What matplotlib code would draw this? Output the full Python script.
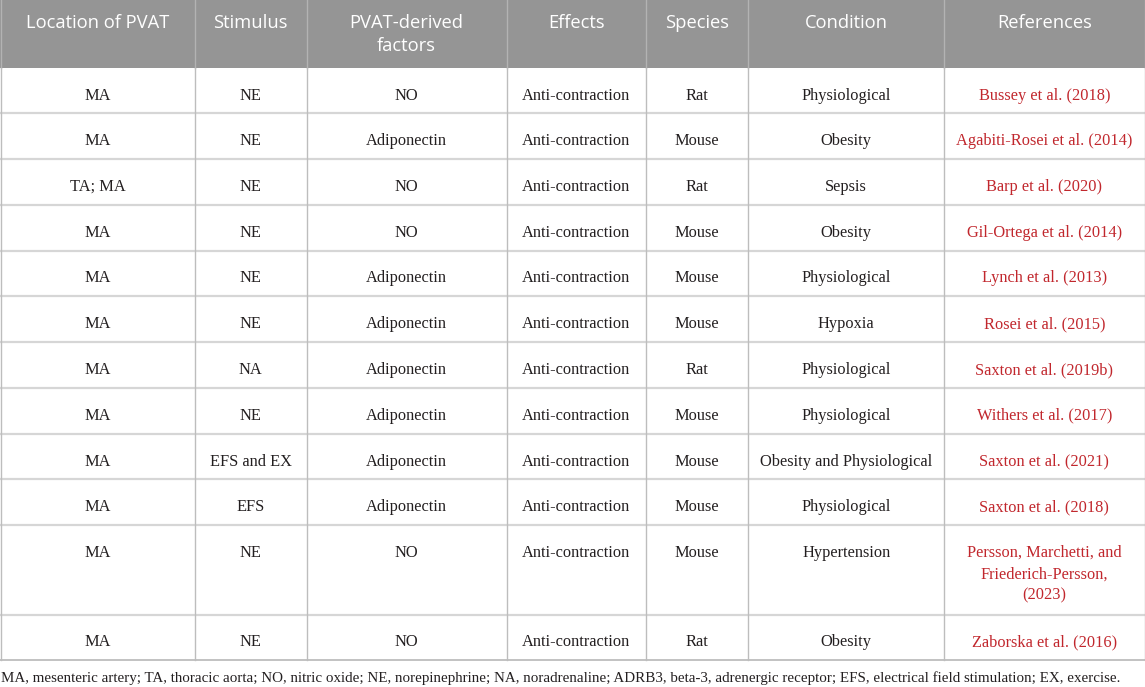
import matplotlib
matplotlib.use("Agg")
import matplotlib.pyplot as plt
from matplotlib.patches import Rectangle

headers = ["Location of PVAT", "Stimulus", "PVAT-derived\nfactors", "Effects",
           "Species", "Condition", "References"]
location = ["MA", "MA", "TA; MA", "MA", "MA", "MA", "MA", "MA", "MA", "MA", "MA", "MA"]
stimulus = ["NE", "NE", "NE", "NE", "NE", "NE", "NA", "NE", "EFS and EX", "EFS", "NE", "NE"]
factors = ["NO", "Adiponectin", "NO", "NO", "Adiponectin", "Adiponectin", "Adiponectin",
           "Adiponectin", "Adiponectin", "Adiponectin", "NO", "NO"]
effects = ["Anti-contraction"] * 12
species = ["Rat", "Mouse", "Rat", "Mouse", "Mouse", "Mouse", "Rat", "Mouse", "Mouse",
           "Mouse", "Mouse", "Rat"]
condition = ["Physiological", "Obesity", "Sepsis", "Obesity", "Physiological", "Hypoxia",
             "Physiological", "Physiological", "Obesity and Physiological", "Physiological",
             "Hypertension", "Obesity"]
references = ["Bussey et al. (2018)", "Agabiti-Rosei et al. (2014)", "Barp et al. (2020)",
              "Gil-Ortega et al. (2014)", "Lynch et al. (2013)", "Rosei et al. (2015)",
              "Saxton et al. (2019b)", "Withers et al. (2017)", "Saxton et al. (2021)",
              "Saxton et al. (2018)",
              "Persson, Marchetti, and\nFriederich-Persson,\n(2023)",
              "Zaborska et al. (2016)"]
footnote = ("MA, mesenteric artery; TA, thoracic aorta; NO, nitric oxide; NE, norepinephrine; "
            "NA, noradrenaline; ADRB3, beta-3, adrenergic receptor; EFS, electrical field "
            "stimulation; EX, exercise.")

columns = [location, stimulus, factors, effects, species, condition, references]

W, H = 1145, 687
fig = plt.figure(figsize=(W / 100, H / 100), dpi=100)
ax = fig.add_axes([0, 0, 1, 1])
ax.set_xlim(0, W)
ax.set_ylim(H, 0)
ax.axis("off")

col_edges = [0.5, 194.5, 306.7, 506.7, 645.7, 748, 944.3, 1144.5]
header_bottom = 67.5
row_h = 45.75
row_heights = [row_h] * 10 + [89.5, 45.75]
row_tops = [header_bottom]
for h in row_heights:
    row_tops.append(row_tops[-1] + h)
table_bottom = row_tops[-1]

# header background
ax.add_patch(Rectangle((0, 0), W, header_bottom, facecolor="#959595", edgecolor="none", zorder=1))

# horizontal lines
for y in row_tops[1:-1]:
    ax.plot([0, W], [y, y], color="#d6d6d6", lw=1.6, zorder=2, solid_capstyle="butt")
ax.plot([0, W], [table_bottom, table_bottom], color="#b8b8b8", lw=1.2, zorder=2)
# vertical lines
for x in col_edges:
    ax.plot([x, x], [0, header_bottom], color="#b3b3b3", lw=1.0, zorder=2)
    ax.plot([x, x], [header_bottom, table_bottom], color="#bdbdbd", lw=1.0, zorder=2)

hfont = dict(family="Open Sans", fontsize=13.2, color="white")
for i, htxt in enumerate(headers):
    cx = (col_edges[i] + col_edges[i + 1]) / 2
    ax.text(cx, 14.5, htxt, ha="center", va="top", linespacing=1.3, zorder=3, **hfont)

bfont = dict(family="Liberation Serif", fontsize=11.75)
for r in range(len(location)):
    top = row_tops[r]
    for c, col in enumerate(columns):
        cx = (col_edges[c] + col_edges[c + 1]) / 2
        color = "#c1272d" if c == 6 else "#231f20"
        ax.text(cx, top + 20, col[r], ha="center", va="top", linespacing=1.45,
                color=color, zorder=3, **bfont)

ax.text(1, 678, footnote, ha="left", va="center", family="Liberation Serif",
        fontsize=10.8, color="#231f20")

fig.savefig("out.png", dpi=100)
